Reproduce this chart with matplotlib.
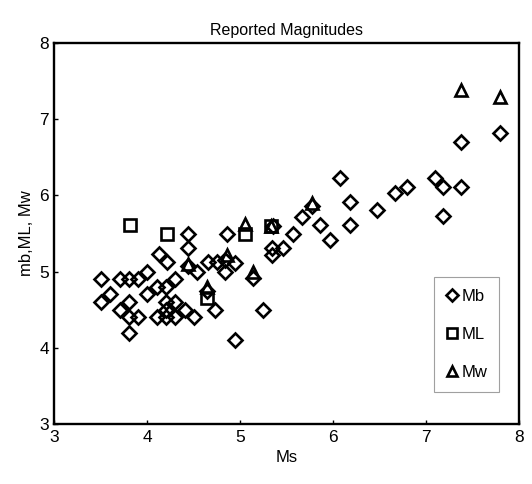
import matplotlib
matplotlib.use("Agg")
import matplotlib.pyplot as plt

plt.rcParams['font.family'] = ['Liberation Sans', 'DejaVu Sans']

# Ms vs reported magnitudes
mb_ms = [3.5, 3.7, 3.8, 3.9, 4.0, 3.6, 3.5, 4.0, 4.1, 4.2,
         3.7, 3.8, 3.8, 3.9, 3.8, 4.2, 4.3, 4.1, 4.2, 4.2,
         4.3, 4.4, 4.5, 4.3, 4.13, 4.21, 4.44, 4.44, 4.44, 4.53,
         4.65, 4.75, 4.84, 4.94, 4.84, 4.86, 4.73, 4.94, 5.24, 4.64,
         5.14, 5.34, 5.34, 5.46, 5.35, 5.57, 5.66, 5.77, 5.86, 5.97,
         6.07, 6.18, 6.18, 6.47, 6.67, 6.79, 7.1, 7.18, 7.38, 7.18,
         7.38, 7.8]
mb_val = [4.9, 4.9, 4.9, 4.9, 5.0, 4.7, 4.6, 4.7, 4.8, 4.8,
          4.5, 4.6, 4.4, 4.4, 4.2, 4.6, 4.6, 4.4, 4.5, 4.4,
          4.4, 4.5, 4.4, 4.9, 5.23, 5.12, 5.5, 5.31, 5.08, 5.0,
          5.13, 5.13, 5.15, 5.11, 5.0, 5.5, 4.5, 4.1, 4.5, 4.75,
          4.92, 5.31, 5.22, 5.31, 5.6, 5.5, 5.72, 5.86, 5.61, 5.41,
          6.23, 5.91, 5.61, 5.81, 6.03, 6.11, 6.23, 6.11, 6.11, 5.73,
          6.7, 6.82]

ml_ms = [3.81, 4.21, 4.64, 5.05, 5.33]
ml_val = [5.61, 5.5, 4.65, 5.5, 5.6]

mw_ms = [4.44, 4.64, 4.86, 5.05, 5.14, 5.33, 5.77, 7.38, 7.8]
mw_val = [5.1, 4.8, 5.22, 5.62, 5.0, 5.6, 5.9, 7.38, 7.29]

fig = plt.figure(figsize=(5.32, 4.84), dpi=100)
ax = fig.add_axes([0.1024, 0.124, 0.8732, 0.787])

kw = dict(linestyle='none', mfc='none', mec='black', mew=1.9)
ax.plot(mb_ms, mb_val, marker='D', ms=7.0, label='Mb', **kw)
ax.plot(ml_ms, ml_val, marker='s', ms=9.0, label='ML', **kw)
ax.plot(mw_ms, mw_val, marker='^', ms=9.0, label='Mw', **kw)

ax.set_xlim(3, 8)
ax.set_ylim(3, 8)
ax.set_xticks(range(3, 9))
ax.set_yticks(range(3, 9))
ax.tick_params(direction='in', length=3, width=1, labelsize=12.5, pad=4)
for s in ax.spines.values():
    s.set_linewidth(1.7)

ax.set_title('Reported Magnitudes', fontsize=11.5, pad=6)
ax.set_xlabel('Ms', fontsize=12)
ax.set_ylabel('mb,ML, Mw', fontsize=12)

leg = ax.legend(loc='lower right', bbox_to_anchor=(0.957, 0.084),
                fancybox=False, edgecolor='#888888', fontsize=12,
                labelspacing=1.4, handlelength=0.7, handletextpad=0.25,
                borderpad=0.7, borderaxespad=0, markerscale=0.85)
leg.get_frame().set_linewidth(0.8)

fig.savefig('out.png', dpi=100)
